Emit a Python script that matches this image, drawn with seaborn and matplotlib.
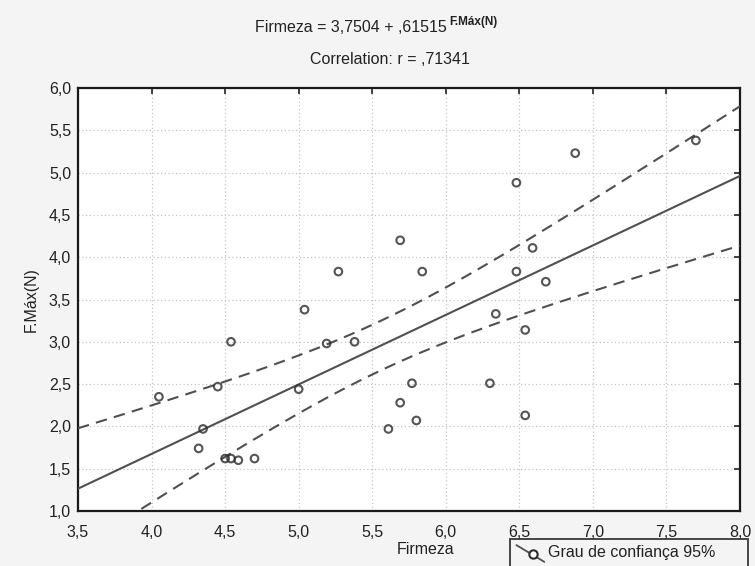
import numpy as np
import pandas as pd
import seaborn as sns
import matplotlib
matplotlib.use("Agg")
import matplotlib.pyplot as plt
from matplotlib.lines import Line2D
from matplotlib.legend_handler import HandlerBase
from matplotlib.ticker import FuncFormatter, MultipleLocator

# Firmness vs. maximum force measurements
firmeza = [4.05, 4.35, 4.32, 4.45, 4.54, 4.50, 4.54, 4.59, 4.70, 5.00,
           5.04, 5.19, 5.27, 5.38, 5.61, 5.69, 5.69, 5.77, 5.80, 5.84,
           6.30, 6.34, 6.48, 6.48, 6.54, 6.54, 6.59, 6.68, 6.88, 7.70]
fmax = [2.35, 1.97, 1.74, 2.47, 3.00, 1.62, 1.62, 1.60, 1.62, 2.44,
        3.38, 2.98, 3.83, 3.00, 1.97, 4.20, 2.28, 2.51, 2.07, 3.83,
        2.51, 3.33, 4.88, 3.83, 3.14, 2.13, 4.11, 3.71, 5.23, 5.38]

title_eq = "Firmeza = 3,7504 + ,61515"
title_var = "F.Máx(N)"
title_r = "Correlation: r = ,71341"
legend_label = "Grau de confiança 95%"

df = pd.DataFrame({"Firmeza": firmeza, "F.Máx(N)": fmax})

sns.set_style("white")
plt.rcParams["font.family"] = ["Liberation Sans", "DejaVu Sans"]

BG = "#f4f4f4"
INK = "#505050"
TXT = "#222222"
FS = 11.5

fig = plt.figure(figsize=(7.55, 5.66), dpi=100, facecolor=BG)
ax = fig.add_axes([78 / 755, 1 - 511 / 566, 662 / 755, 423 / 566])
ax.set_facecolor("white")
ax.set_xlim(3.5, 8.0)
ax.set_ylim(1.0, 6.0)

# scatter + fitted line across the full x range
sns.regplot(data=df, x="Firmeza", y="F.Máx(N)", ax=ax, ci=None, truncate=False,
            scatter_kws=dict(s=30, facecolors="none", edgecolors="#2b2b2b",
                             linewidths=1.5, zorder=4),
            line_kws=dict(color=INK, lw=1.5, zorder=3))

# 95% confidence bands for the regression mean
x = np.asarray(firmeza)
y = np.asarray(fmax)
n = len(x)
b1, b0 = np.polyfit(x, y, 1)
resid = y - (b0 + b1 * x)
s = np.sqrt(np.sum(resid ** 2) / (n - 2))
sxx = np.sum((x - x.mean()) ** 2)
xs = np.linspace(3.5, 8.0, 200)
yhat = b0 + b1 * xs
half = 2.048 * s * np.sqrt(1 / n + (xs - x.mean()) ** 2 / sxx)
for band in (yhat + half, yhat - half):
    sns.lineplot(x=xs, y=band, ax=ax, color=INK, lw=1.5, zorder=3,
                 linestyle=(0, (5.5, 3.5)))

ax.set_xlim(3.5, 8.0)
ax.set_ylim(1.0, 6.0)
ax.xaxis.set_major_locator(MultipleLocator(0.5))
ax.yaxis.set_major_locator(MultipleLocator(0.5))
comma = FuncFormatter(lambda v, p: f"{v:.1f}".replace(".", ","))
ax.xaxis.set_major_formatter(comma)
ax.yaxis.set_major_formatter(comma)
ax.tick_params(direction="in", length=4, width=1.2, color=TXT,
               top=True, right=True, labelsize=FS, labelcolor=TXT)
ax.tick_params(axis="x", pad=10)
ax.tick_params(axis="y", pad=5)
ax.grid(True, linestyle=(0, (1, 2)), color="#c4c4c4", lw=0.9)
for sp in ax.spines.values():
    sp.set_color("#1a1a1a")
    sp.set_linewidth(1.6)
    sp.set_visible(True)

ax.set_xlabel("Firmeza", fontsize=FS, color=TXT)
ax.xaxis.set_label_coords((426 - 78) / 662, -(542 - 511) / 423)
ax.set_ylabel("F.Máx(N)", fontsize=FS, color=TXT, labelpad=7)

# titles
fig.text(447 / 755, 1 - 27 / 566, title_eq, ha="right", va="center",
         fontsize=FS, color=TXT)
fig.text(449 / 755, 1 - 22 / 566, title_var, ha="left", va="center",
         fontsize=8.5, fontweight="bold", color=TXT)
fig.text(390 / 755, 1 - 60 / 566, title_r, ha="center", va="center",
         fontsize=FS, color=TXT)


class DiagonalHandler(HandlerBase):
    def create_artists(self, legend, orig_handle, xdescent, ydescent,
                       width, height, fontsize, trans):
        line = Line2D([-xdescent, width - xdescent],
                      [height * 1.1 - ydescent, -height * 0.4 - ydescent],
                      color=INK, lw=1.3, transform=trans)
        mark = Line2D([width * 0.6 - xdescent], [height * 0.3 - ydescent],
                      marker="o", ms=6, mfc="white", mec="#2b2b2b", mew=1.5,
                      linestyle="none", transform=trans)
        return [line, mark]


handle = Line2D([], [], color=INK)
leg = fig.legend([handle], [legend_label], loc="upper left",
                 bbox_to_anchor=(510 / 755, 0, 238 / 755, 1 - 539 / 566),
                 mode="expand",
                 handler_map={Line2D: DiagonalHandler()},
                 frameon=True, fancybox=False, fontsize=FS,
                 handlelength=1.75, handletextpad=0.2, borderpad=0.4,
                 borderaxespad=0)
frame = leg.get_frame()
frame.set_facecolor(BG)
frame.set_edgecolor("#1a1a1a")
frame.set_linewidth(1.4)
for t in leg.get_texts():
    t.set_color(TXT)

fig.savefig("out.png", dpi=100, facecolor=BG)
